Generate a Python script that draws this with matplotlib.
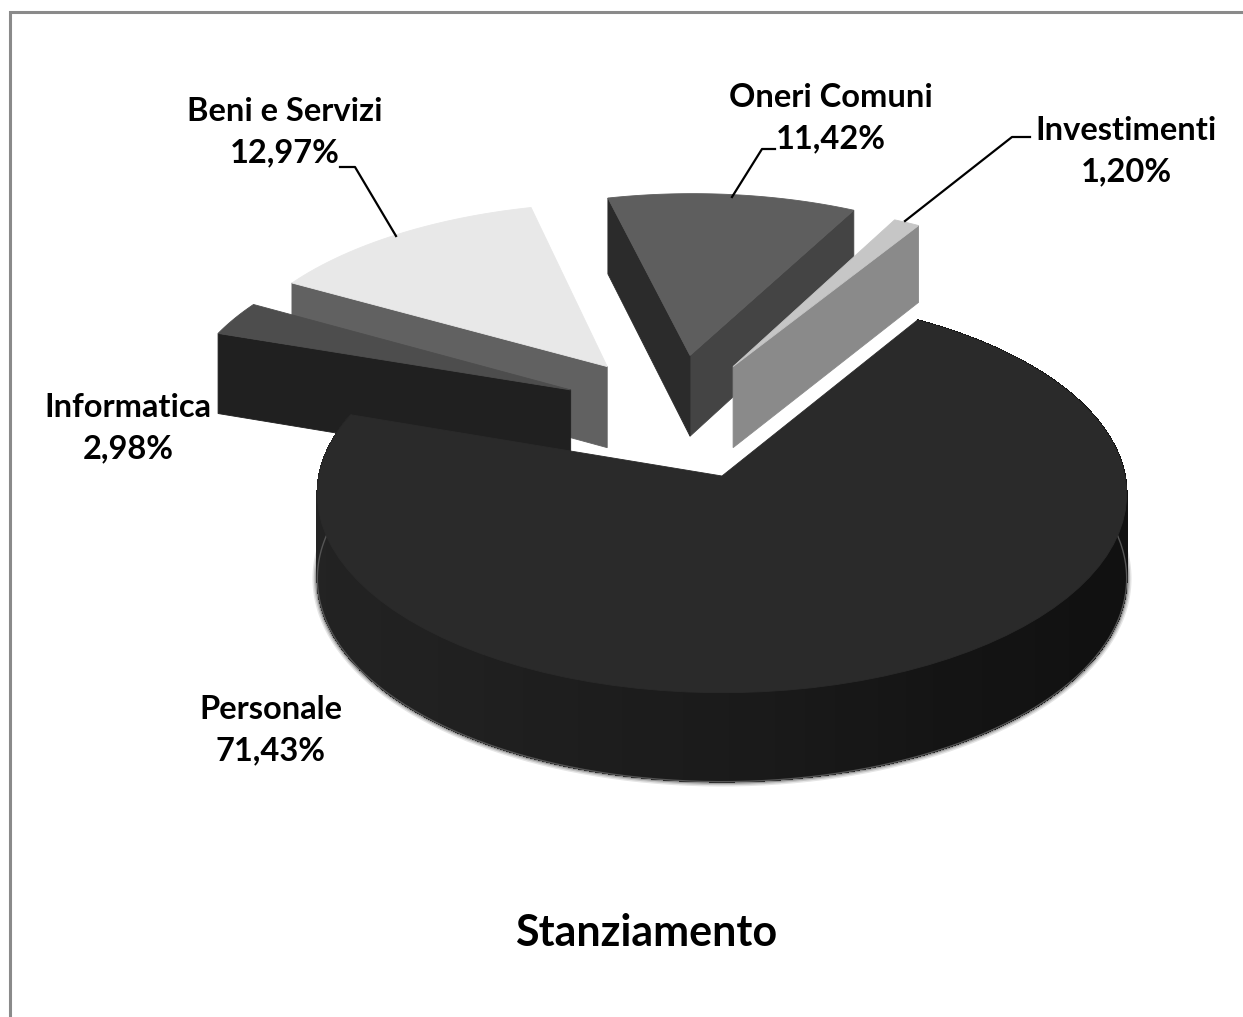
"""
Stanziamento: exploded 3D pie, drawn by hand in pixel coordinates
because matplotlib has no perspective pie.
"""
import numpy as np
import matplotlib
matplotlib.use("Agg")
import matplotlib.pyplot as plt
from matplotlib.patches import Polygon

categories = ["Personale", "Informatica", "Beni e Servizi", "Oneri Comuni", "Investimenti"]
percent = [71.43, 2.98, 12.97, 11.42, 1.20]
title = "Stanziamento"

# explosion of each slice on the pie plane
explode_u = [0.0, -0.391, -0.300, -0.084, 0.029]
explode_v = [0.0, 0.455, 0.585, 0.648, 0.585]

top_colors = ["#2a2a2a", "#4d4d4d", "#e8e8e8", "#5e5e5e", "#c6c6c6"]
start_face_colors = [None, "#202020", "#616161", "#2b2b2b", None]
end_face_colors = [None, None, None, "#444444", "#8a8a8a"]

# shading of the round side of the big slice
side_angles = [160, 225, 270, 300, 330, 420]
side_grays = [0.142, 0.130, 0.105, 0.080, 0.066, 0.070]

# label centres, pixels
label_x = [271, 128, 285, 831, 1126]
label_y = [730, 428, 132, 118, 151]

# leader lines, pixels
leader_beni = ([340, 355, 396], [167, 167, 236])
leader_oneri = ([775, 762, 732], [149, 149, 197])
leader_inv = ([1030, 1012, 905], [137, 137, 221])

CX, CY = 722, 476
A, B, K = 403, 197, 0.0909
DEPTH, DEPTH_TILT = 84, 5
START = 58.5

FONT = ["Lato", "DejaVu Sans"]


def project(u, v, low=False):
    w = 1 + K * v
    y = CY - B * v / w
    if low:
        y = y + DEPTH - DEPTH_TILT * v
    return CX + A * u / w, y


def arc(du, dv, t1, t2, low=False, n=80):
    t = np.radians(np.linspace(t1, t2, n))
    return project(du + np.cos(t), dv + np.sin(t), low)


def fill(ax, x, y, color, z, smooth=True):
    ax.add_patch(Polygon(np.column_stack([x, y]), closed=True, facecolor=color,
                         edgecolor=color, linewidth=0.6, zorder=z, antialiased=smooth))


def cut_face(ax, du, dv, t, color, z):
    r = np.radians(t)
    x0, y0 = project(du, dv)
    x1, y1 = project(du + np.cos(r), dv + np.sin(r))
    x2, y2 = project(du + np.cos(r), dv + np.sin(r), True)
    x3, y3 = project(du, dv, True)
    fill(ax, [x0, x1, x2, x3], [y0, y1, y2, y3], color, z)


fig = plt.figure(figsize=(12.43, 10.17), dpi=100)
ax = fig.add_axes([0, 0, 1, 1])
ax.set_xlim(0, 1243)
ax.set_ylim(1017, 0)
ax.axis("off")

# outer frame, runs off the right and bottom of the picture
ax.plot([10, 10, 1243], [1017, 12, 12], color="#8a8a8a", lw=2.2, zorder=1,
        solid_joinstyle="miter")

# slices go clockwise from the start angle, the big one first
spans = np.array(percent) / sum(percent) * 360
ends = START - np.cumsum(spans)
starts = ends + spans
draw_order = [2, 1, 3, 4, 0]

for layer, i in enumerate(draw_order):
    z = 2 + layer * 3
    du, dv = explode_u[i], explode_v[i]
    t1, t2 = starts[i], ends[i]

    if i == 0:
        # soft shadow and pale rim under the round side
        xs, ys = arc(du, dv, 172, 368, True, 200)
        for lw, alpha in [(7, 0.10), (5, 0.14), (3, 0.25)]:
            ax.plot(xs, ys, color="black", lw=lw, alpha=alpha, zorder=z,
                    solid_capstyle="round")
        edges = np.linspace(t2, t1, 130)
        for a, b in zip(edges[:-1], edges[1:]):
            xa, ya = arc(du, dv, a, b, False, 3)
            xb, yb = arc(du, dv, b, a, True, 3)
            mid = (a + b) / 2 % 360
            if mid < 100:
                mid += 360
            gray = np.interp(mid, side_angles, side_grays)
            fill(ax, np.r_[xa, xb], np.r_[ya, yb], str(gray), z + 0.5, smooth=False)
        ax.plot(xs, ys, color="#555555", lw=1.0, zorder=z + 0.6)

    if end_face_colors[i]:
        cut_face(ax, du, dv, t2, end_face_colors[i], z + 0.7)
    if start_face_colors[i]:
        cut_face(ax, du, dv, t1, start_face_colors[i], z + 0.8)

    xa, ya = arc(du, dv, t1, t2)
    x0, y0 = project(du, dv)
    fill(ax, np.r_[x0, xa], np.r_[y0, ya], top_colors[i], z + 1)

for lx, ly in [leader_beni, leader_oneri, leader_inv]:
    ax.plot(lx, ly, color="black", lw=1.6, zorder=30)

for name, p, x, y in zip(categories, percent, label_x, label_y):
    text = name + "\n" + f"{p:.2f}".replace(".", ",") + "%"
    ax.text(x, y, text, ha="center", va="center", family=FONT, fontweight="bold",
            fontsize=23.5, linespacing=1.5, color="black", zorder=31)

ax.text(646, 933, title, ha="center", va="center", family=FONT, fontweight="bold",
        fontsize=31, color="black", zorder=31)

fig.savefig("out.png", dpi=100, facecolor="white")
